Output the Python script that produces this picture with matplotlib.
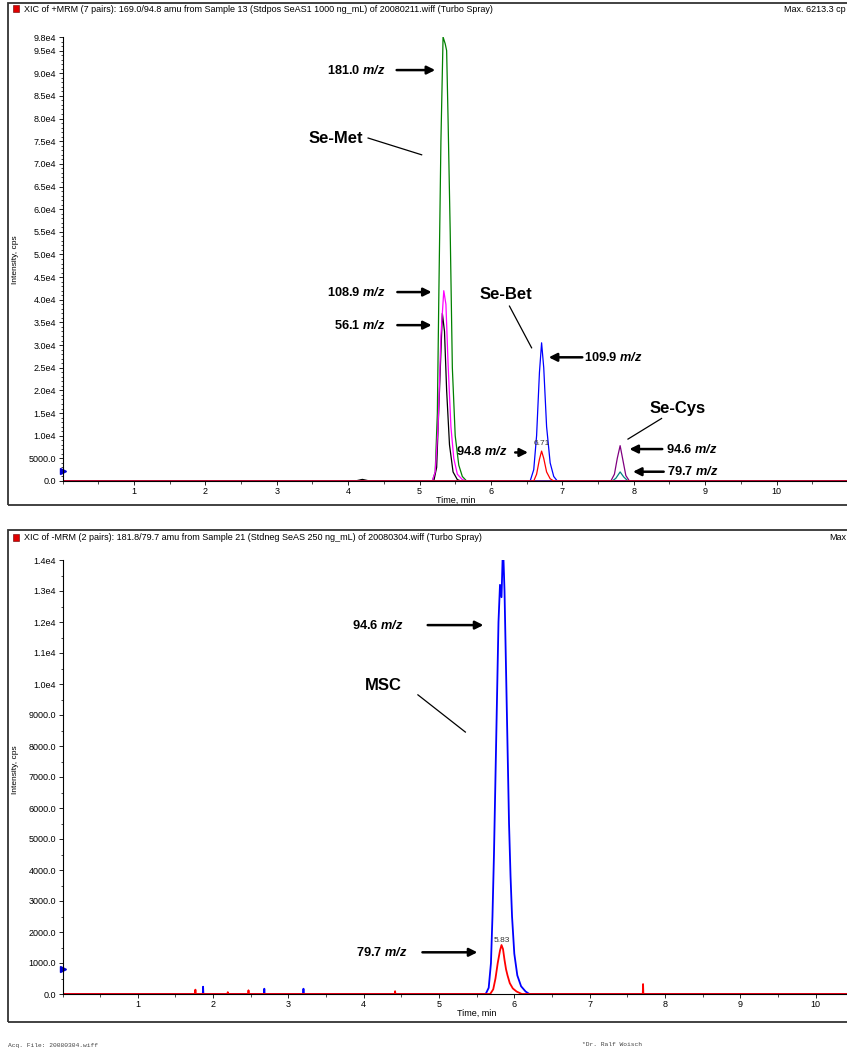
import matplotlib
matplotlib.use("Agg")
import matplotlib.pyplot as plt
from matplotlib.patches import Rectangle
from matplotlib.ticker import FixedLocator, MultipleLocator
import numpy as np

plt.rcParams['font.family'] = ['Liberation Sans', 'DejaVu Sans']
plt.rcParams['mathtext.fontset'] = 'custom'
plt.rcParams['mathtext.bfit'] = 'Liberation Sans:italic:bold'
plt.rcParams['mathtext.it'] = 'Liberation Sans:italic'
plt.rcParams['mathtext.rm'] = 'Liberation Sans'

# ---- top chromatogram (positive MRM), time in min, intensity in cps ----
green_t = [0, 5.18, 5.22, 5.25, 5.27, 5.30, 5.33, 5.36, 5.38, 5.40, 5.43, 5.46, 5.50, 5.55, 5.60, 5.66, 11]
green_i = [0, 0, 2000, 15000, 40000, 75000, 98000, 96500, 95000, 80000, 55000, 25000, 10000, 3500, 1000, 0, 0]
magenta_t = [0, 5.18, 5.22, 5.26, 5.30, 5.34, 5.37, 5.40, 5.44, 5.48, 5.53, 5.60, 5.66, 11]
magenta_i = [0, 0, 2000, 12000, 32000, 42000, 39000, 26000, 12000, 5000, 1500, 300, 0, 0]
black_t = [0, 4.10, 4.20, 4.30, 5.20, 5.24, 5.28, 5.32, 5.35, 5.38, 5.42, 5.47, 5.53, 5.58, 11]
black_i = [0, 0, 350, 0, 0, 3000, 20000, 37000, 33000, 20000, 8000, 2000, 300, 0, 0]
blue_t = [0, 6.55, 6.60, 6.64, 6.68, 6.71, 6.74, 6.78, 6.83, 6.88, 6.93, 11]
blue_i = [0, 0, 2500, 10000, 24000, 30500, 25000, 12000, 4000, 1000, 0, 0]
purple_t = [0, 7.68, 7.73, 7.77, 7.81, 7.85, 7.89, 7.94, 11]
purple_i = [0, 0, 1500, 5000, 7800, 4500, 1200, 0, 0]
teal_t = [0, 7.70, 7.75, 7.81, 7.86, 7.92, 11]
teal_i = [0, 0, 600, 2000, 900, 0, 0]
red_t = [0, 6.60, 6.64, 6.68, 6.71, 6.74, 6.78, 6.83, 6.88, 11]
red_i = [0, 0, 1500, 4800, 6600, 5000, 2000, 500, 0, 0]

top_yticks = [0, 5000, 10000, 15000, 20000, 25000, 30000, 35000, 40000, 45000, 50000,
              55000, 60000, 65000, 70000, 75000, 80000, 85000, 90000, 95000, 98000]
top_ylabels = ['0.0', '5000.0', '1.0e4', '1.5e4', '2.0e4', '2.5e4', '3.0e4', '3.5e4', '4.0e4',
               '4.5e4', '5.0e4', '5.5e4', '6.0e4', '6.5e4', '7.0e4', '7.5e4', '8.0e4', '8.5e4',
               '9.0e4', '9.5e4', '9.8e4']

# ---- bottom chromatogram (negative MRM) ----
msc_blue_t = [0, 5.62, 5.66, 5.69, 5.71, 5.73, 5.75, 5.77, 5.79, 5.81, 5.83, 5.85, 5.87,
              5.89, 5.91, 5.93, 5.95, 5.97, 6.00, 6.04, 6.09, 6.15, 6.20, 11]
msc_blue_i = [0, 0, 200, 1000, 2500, 4500, 7000, 9500, 12000, 13200, 12800, 14500, 13000,
              10500, 8000, 5500, 3800, 2500, 1300, 600, 250, 80, 0, 0]
msc_red_t = [0, 5.68, 5.72, 5.75, 5.78, 5.81, 5.83, 5.85, 5.87, 5.89, 5.91, 5.94, 5.98, 6.03, 6.10, 11]
msc_red_i = [0, 0, 150, 500, 1000, 1400, 1580, 1450, 1100, 800, 600, 350, 180, 80, 0, 0]
blue_spike_t = [1.867, 2.68, 3.20]
blue_spike_i = [235, 170, 170]
red_spike_t = [1.765, 2.195, 2.47, 4.417, 7.71]
red_spike_i = [140, 60, 120, 90, 320]

bot_yticks = [0, 1000, 2000, 3000, 4000, 5000, 6000, 7000, 8000, 9000, 10000, 11000, 12000, 13000, 14000]
bot_ylabels = ['0.0', '1000.0', '2000.0', '3000.0', '4000.0', '5000.0', '6000.0', '7000.0',
               '8000.0', '9000.0', '1.0e4', '1.1e4', '1.2e4', '1.3e4', '1.4e4']

x_ticks = [1, 2, 3, 4, 5, 6, 7, 8, 9, 10]
marker_top = 2300
marker_bot = 800

W, H = 847, 1052
fig = plt.figure(figsize=(W / 100, H / 100), dpi=100)


def px_axes(left, top, right, bottom):
    return fig.add_axes([left / W, 1 - bottom / H, (right - left) / W, (bottom - top) / H])


def add_spikes(t, i, st, si):
    t = list(t)
    i = list(i)
    for a, b in zip(st, si):
        t += [a - 0.004, a, a + 0.004]
        i += [0, b, 0]
    order = np.argsort(t, kind='stable')
    return np.array(t)[order], np.array(i)[order]


def style_axes(ax, yt, yl, minor):
    for s in ['top', 'right']:
        ax.spines[s].set_visible(False)
    ax.spines['left'].set_linewidth(0.8)
    ax.spines['bottom'].set_linewidth(0.8)
    ax.xaxis.set_major_locator(FixedLocator(x_ticks))
    ax.set_xticklabels([str(v) for v in x_ticks])
    ax.xaxis.set_minor_locator(MultipleLocator(0.5))
    ax.yaxis.set_major_locator(FixedLocator(yt))
    ax.set_yticklabels(yl)
    ax.yaxis.set_minor_locator(MultipleLocator(minor))
    ax.tick_params(which='major', direction='out', length=3, width=0.6, labelsize=6.5, pad=1.5)
    ax.tick_params(which='minor', direction='out', length=1.8, width=0.5)
    ax.set_xlabel('Time, min', fontsize=6.5, labelpad=0)
    ax.set_xlim(0, 11)


def arrow(ax, tip, tail, y):
    ax.annotate('', xy=(tip, y), xytext=(tail, y),
                arrowprops=dict(arrowstyle='-|>', lw=1.8, color='k', mutation_scale=12,
                                shrinkA=0, shrinkB=0))


def label(ax, x, y, s, size=9.2, ha='center'):
    ax.text(x, y, s, fontsize=size, fontweight='bold', ha=ha, va='center')


# frames around the two panels
fig.patches.append(Rectangle((8 / W, 1 - 505 / H), 1.0, (505 - 3) / H, transform=fig.transFigure,
                             fill=False, lw=1.3, ec='#333333'))
fig.patches.append(Rectangle((8 / W, 1 - 1022 / H), 1.0, (1022 - 530) / H, transform=fig.transFigure,
                             fill=False, lw=1.3, ec='#333333'))
for yy in [8.5, 537]:
    fig.patches.append(Rectangle((13 / W, 1 - (yy + 3.5) / H), 6 / W, 7 / H, transform=fig.transFigure,
                                 fc='#e00000', ec='#600000', lw=0.4))

fig.text(24 / W, 1 - 9 / H, 'XIC of +MRM (7 pairs): 169.0/94.8 amu from Sample 13 (Stdpos SeAS1 1000 ng_mL) '
         'of 20080211.wiff (Turbo Spray)', fontsize=6.5, va='center')
fig.text(846 / W, 1 - 9 / H, 'Max. 6213.3 cp', fontsize=6.5, va='center', ha='right')
fig.text(24 / W, 1 - 537 / H, 'XIC of -MRM (2 pairs): 181.8/79.7 amu from Sample 21 (Stdneg SeAS 250 ng_mL) '
         'of 20080304.wiff (Turbo Spray)', fontsize=6.5, va='center')
fig.text(846 / W, 1 - 537 / H, 'Max', fontsize=6.5, va='center', ha='right')
fig.text(8 / W, 1 - 1045 / H, 'Acq. File: 20080304.wiff', fontsize=4.5, family='Liberation Mono',
         color='#444444', va='center')
fig.text(582 / W, 1 - 1045 / H, '*Dr. Ralf Woisch', fontsize=4.5, family='Liberation Mono',
         color='#444444', va='center')

mzs = r' $\mathbfit{m/z}$'

# ---------------- top panel ----------------
ax1 = px_axes(62.5, 37, 62.5 + 11 * 71.4, 481)
for t, i, c in [(green_t, green_i, '#008000'), (black_t, black_i, 'black'),
                (magenta_t, magenta_i, '#ff00ff'), (blue_t, blue_i, '#0000ff'),
                (teal_t, teal_i, '#008080'), (purple_t, purple_i, '#800080'),
                (red_t, red_i, '#ff0000')]:
    ax1.plot(t, i, color=c, lw=0.9)
ax1.set_ylim(0, 98000)
style_axes(ax1, top_yticks, top_ylabels, 1000)
ax1.plot([0], [marker_top], marker='>', color='#0000cc', ms=4, clip_on=False)
fig.text(15 / W, 1 - 260 / H, 'Intensity, cps', rotation=90, fontsize=6, va='center', ha='center')

label(ax1, 4.52, 90700, '181.0' + mzs, ha='right')
arrow(ax1, 5.22, 4.68, 90700)
label(ax1, 4.21, 75700, 'Se-Met', size=12, ha='right')
ax1.plot([4.28, 5.03], [75700, 72000], color='k', lw=0.9)
label(ax1, 4.53, 41700, '108.9' + mzs, ha='right')
arrow(ax1, 5.17, 4.69, 41700)
label(ax1, 4.53, 34400, '56.1' + mzs, ha='right')
arrow(ax1, 5.17, 4.69, 34400)
label(ax1, 6.21, 41200, 'Se-Bet', size=12)
ax1.plot([6.26, 6.57], [38600, 29400], color='k', lw=0.9)
label(ax1, 7.30, 27300, '109.9' + mzs, ha='left')
arrow(ax1, 6.81, 7.28, 27300)
label(ax1, 6.235, 6600, '94.8' + mzs, ha='right')
arrow(ax1, 6.52, 6.34, 6300)
ax1.text(6.71, 7600, '6.71', fontsize=6, ha='center', va='bottom', color='#333333')
label(ax1, 8.62, 16000, 'Se-Cys', size=12)
ax1.plot([8.39, 7.92], [13800, 9250], color='k', lw=0.9)
label(ax1, 8.45, 7050, '94.6' + mzs, ha='left')
arrow(ax1, 7.94, 8.40, 7050)
label(ax1, 8.46, 2050, '79.7' + mzs, ha='left')
arrow(ax1, 7.99, 8.42, 2050)

# ---------------- bottom panel ----------------
ax2 = px_axes(62.5, 560, 62.5 + 11 * 75.3, 994)
bt, bi = add_spikes(msc_blue_t, msc_blue_i, blue_spike_t, blue_spike_i)
rt, ri = add_spikes(msc_red_t, msc_red_i, red_spike_t, red_spike_i)
ax2.plot(bt, bi, color='#0000ff', lw=1.3)
ax2.plot(rt, ri, color='#ff0000', lw=1.3)
ax2.set_ylim(0, 14000)
style_axes(ax2, bot_yticks, bot_ylabels, 500)
ax2.plot([0], [marker_bot], marker='>', color='#0000cc', ms=4, clip_on=False)
fig.text(15 / W, 1 - 770 / H, 'Intensity, cps', rotation=90, fontsize=6, va='center', ha='center')

label(ax2, 4.53, 11900, '94.6' + mzs, ha='right')
arrow(ax2, 5.59, 4.85, 11900)
label(ax2, 4.26, 9950, 'MSC', size=12)
ax2.plot([4.72, 5.35], [9650, 8450], color='k', lw=0.9)
label(ax2, 4.58, 1345, '79.7' + mzs, ha='right')
arrow(ax2, 5.51, 4.78, 1345)
ax2.text(5.83, 1620, '5.83', fontsize=6, ha='center', va='bottom', color='#333333')

fig.savefig('out.png', dpi=100)
